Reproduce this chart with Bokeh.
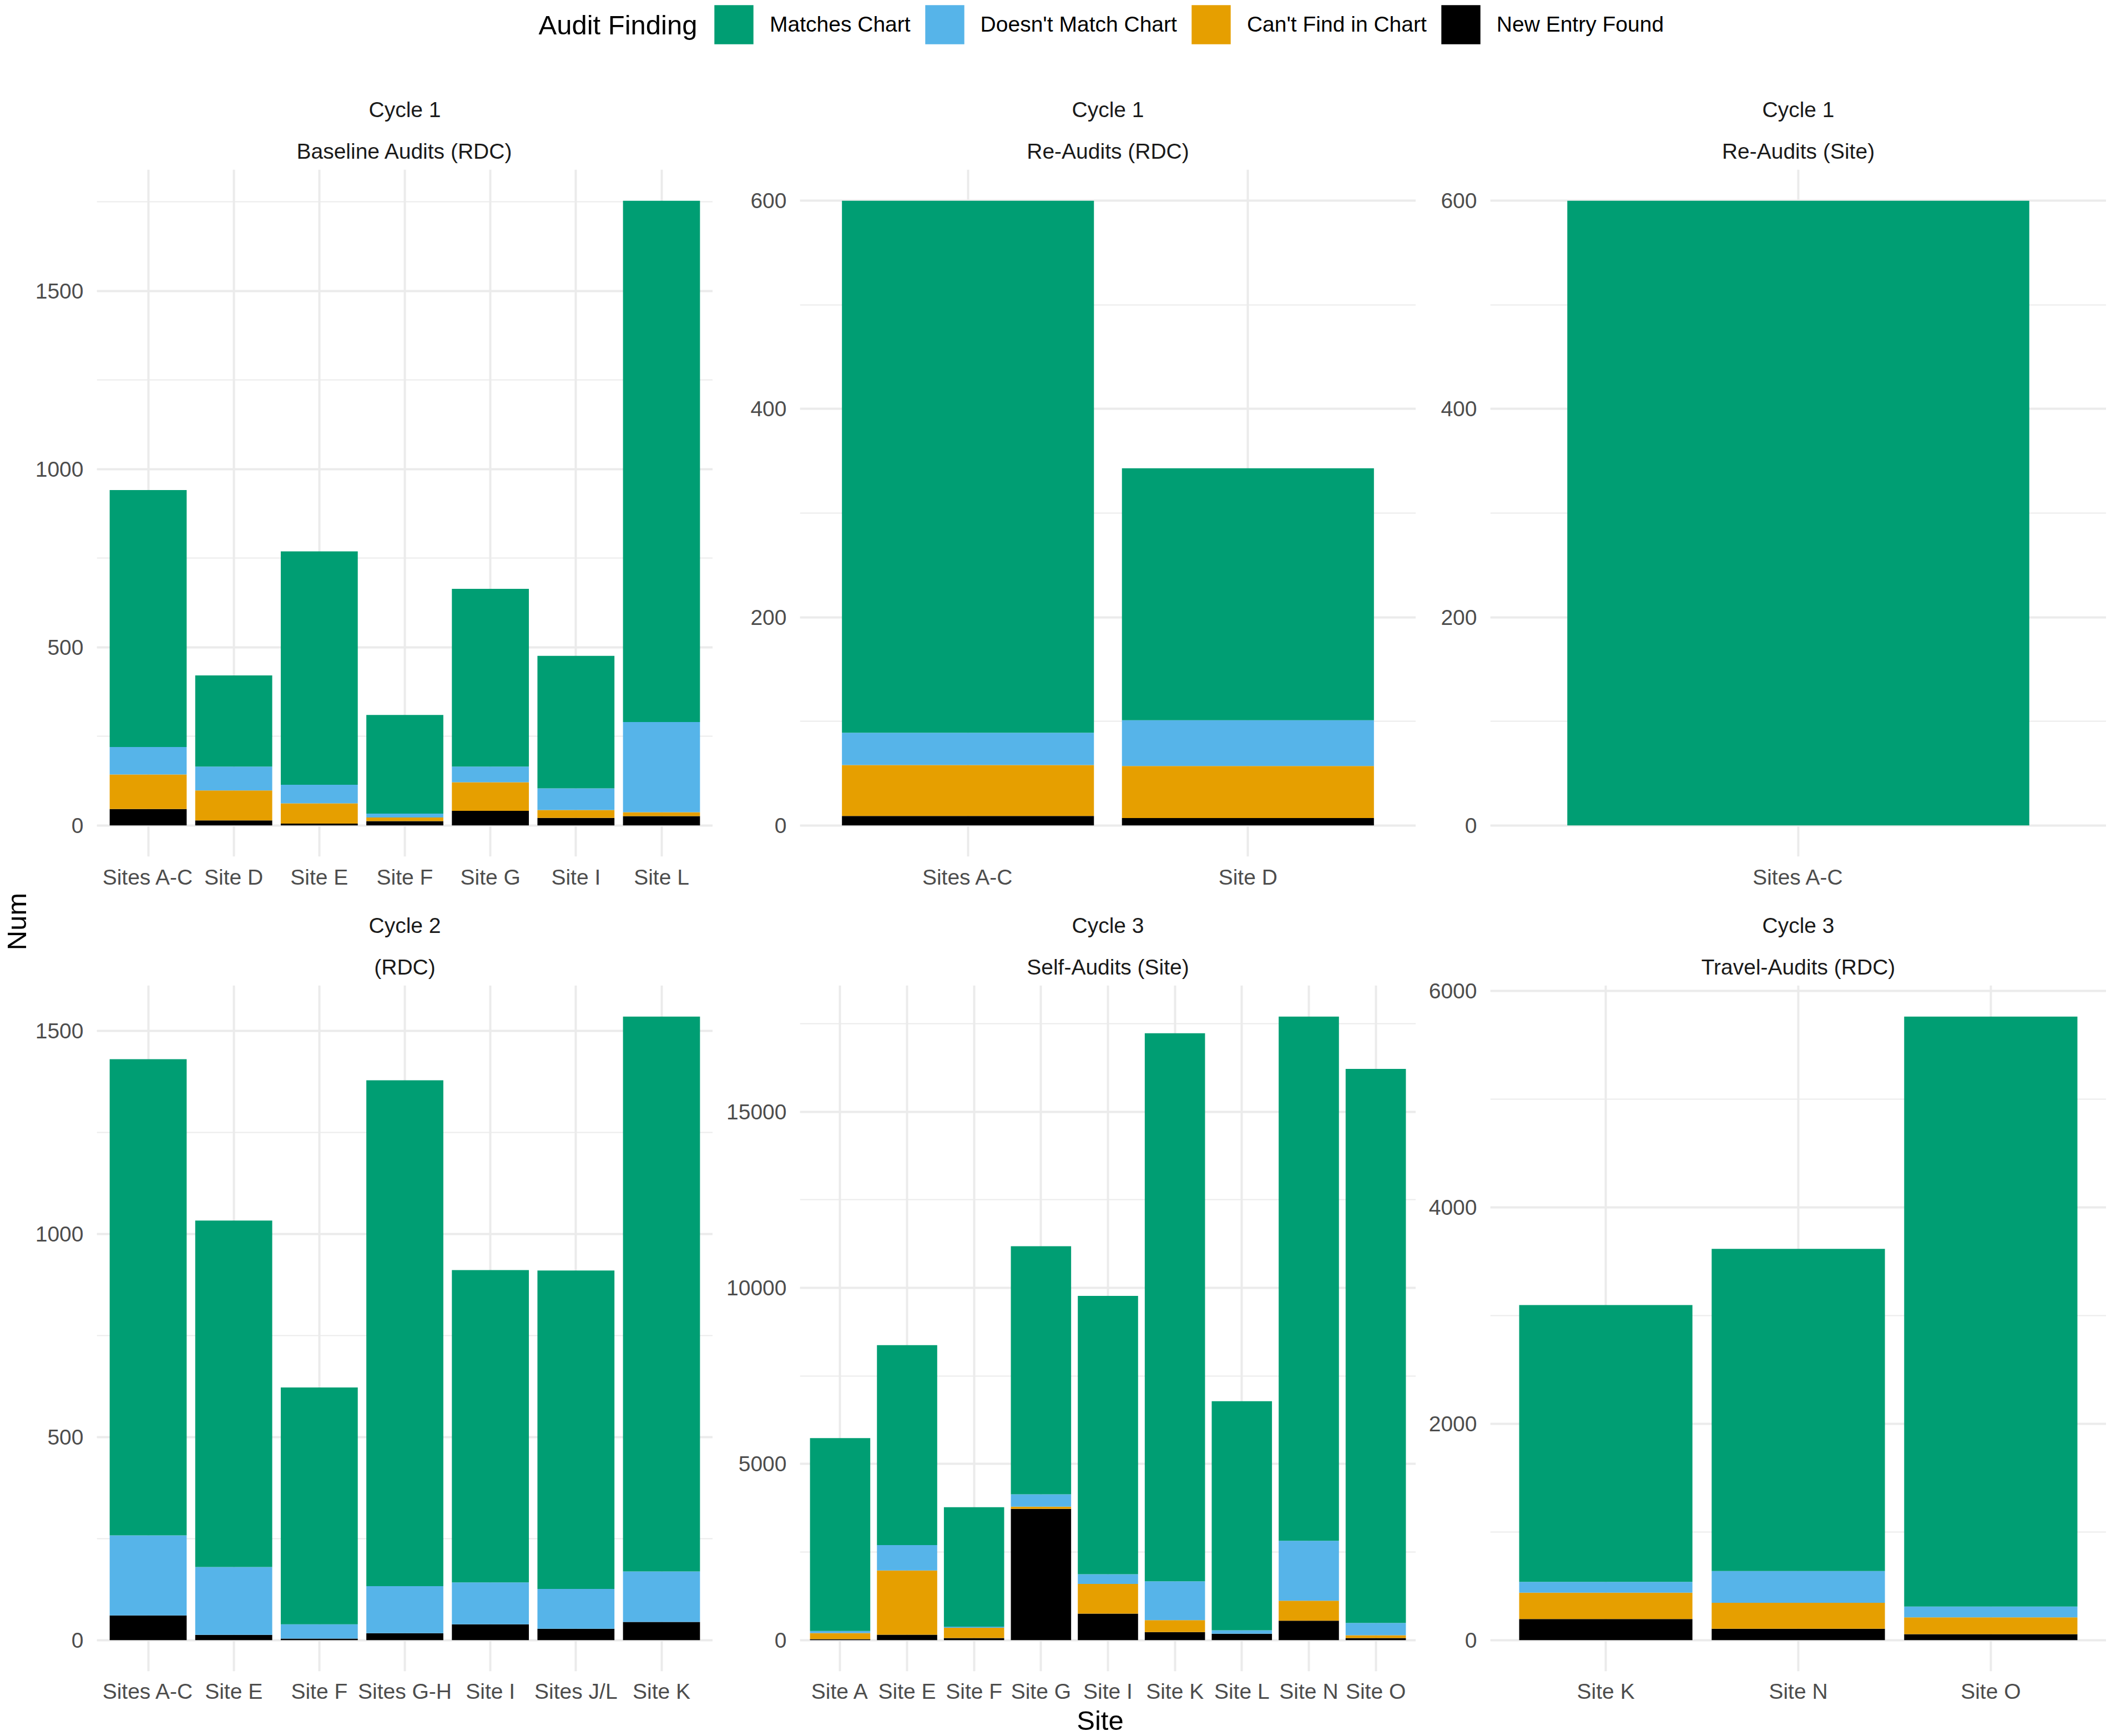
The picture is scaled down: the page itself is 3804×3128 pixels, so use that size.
import math
from bokeh.plotting import figure
from bokeh.models import (Range1d, FixedTicker, SingleIntervalTicker, Title,
                          Legend, LegendItem, ColumnDataSource)
from bokeh.layouts import row, column
from bokeh.embed import file_html
from bokeh.resources import INLINE
from bokeh.core.properties import value

# ---------------- data ----------------
findings = ["Matches Chart", "Doesn't Match Chart", "Can't Find in Chart", "New Entry Found"]
finding_colors = ["#009E73", "#56B4E9", "#E69F00", "#000000"]

panel_cycles = ["Cycle 1", "Cycle 1", "Cycle 1", "Cycle 2", "Cycle 3", "Cycle 3"]
panel_types = ["Baseline Audits (RDC)", "Re-Audits (RDC)", "Re-Audits (Site)",
               "(RDC)", "Self-Audits (Site)", "Travel-Audits (RDC)"]
panel_tick_step = [500, 200, 200, 500, 5000, 2000]

c1_base_sites = ["Sites A-C", "Site D", "Site E", "Site F", "Site G", "Site I", "Site L"]
c1_base_matches = [721, 256, 655, 277, 499, 372, 1463]
c1_base_doesnt = [77, 67, 52, 11, 44, 61, 253]
c1_base_cant = [97, 84, 57, 10, 80, 22, 11]
c1_base_new = [46, 14, 5, 12, 41, 21, 26]

c1_rerdc_sites = ["Sites A-C", "Site D"]
c1_rerdc_matches = [511, 242]
c1_rerdc_doesnt = [31, 44]
c1_rerdc_cant = [49, 50]
c1_rerdc_new = [9, 7]

c1_resite_sites = ["Sites A-C"]
c1_resite_matches = [600]
c1_resite_doesnt = [0]
c1_resite_cant = [0]
c1_resite_new = [0]

c2_rdc_sites = ["Sites A-C", "Site E", "Site F", "Sites G-H", "Site I", "Sites J/L", "Site K"]
c2_rdc_matches = [1172, 853, 583, 1245, 769, 784, 1366]
c2_rdc_doesnt = [197, 167, 35, 116, 103, 98, 124]
c2_rdc_cant = [0, 0, 0, 0, 0, 0, 0]
c2_rdc_new = [61, 13, 4, 17, 39, 28, 45]

c3_self_sites = ["Site A", "Site E", "Site F", "Site G", "Site I", "Site K", "Site L", "Site N", "Site O"]
c3_self_matches = [5476, 5674, 3390, 7040, 7899, 15552, 6503, 14877, 15721]
c3_self_doesnt = [60, 721, 30, 353, 276, 1105, 97, 1702, 353]
c3_self_cant = [170, 1826, 292, 61, 843, 337, 0, 568, 77]
c3_self_new = [30, 153, 61, 3727, 752, 230, 184, 552, 61]

c3_travel_sites = ["Site K", "Site N", "Site O"]
c3_travel_matches = [2557, 2976, 5452]
c3_travel_doesnt = [100, 294, 100]
c3_travel_cant = [244, 240, 155]
c3_travel_new = [195, 105, 55]

panels = [
    (c1_base_sites, c1_base_matches, c1_base_doesnt, c1_base_cant, c1_base_new),
    (c1_rerdc_sites, c1_rerdc_matches, c1_rerdc_doesnt, c1_rerdc_cant, c1_rerdc_new),
    (c1_resite_sites, c1_resite_matches, c1_resite_doesnt, c1_resite_cant, c1_resite_new),
    (c2_rdc_sites, c2_rdc_matches, c2_rdc_doesnt, c2_rdc_cant, c2_rdc_new),
    (c3_self_sites, c3_self_matches, c3_self_doesnt, c3_self_cant, c3_self_new),
    (c3_travel_sites, c3_travel_matches, c3_travel_doesnt, c3_travel_cant, c3_travel_new),
]

# ---------------- layout constants ----------------
FONT = "Liberation Sans"
GRID = "#EBEBEB"
SMALL = "39px"
LARGE = "49px"
FRAME_W = 1110
FRAME_H = [1238, 1236]
NUM_W = 58
LEFT_BORDERS = [116, 157, 134]
T_EST = 150            # height taken by the two strip titles
H_L = 305 - T_EST      # legend strip height
B1 = 232 - T_EST       # bottom border of row 1
B2 = 58                # bottom border of row 2
SITE_H = 56            # strip holding the x-axis title
TOTAL_W = NUM_W + sum(LEFT_BORDERS) + 3 * FRAME_W
LEG_GLYPH = 88         # legend glyph box (area glyph drawn with 10% inset)


def make_panel(k, left_border, frame_h, bottom_border, label_standoff):
    sites, matches, doesnt, cant, new = panels[k]
    n = len(sites)
    xs = list(range(1, n + 1))
    totals = [a + b + c + d for a, b, c, d in zip(matches, doesnt, cant, new)]
    top = max(totals)
    p = figure(frame_width=FRAME_W, frame_height=frame_h,
               x_range=Range1d(0.4, n + 0.6),
               y_range=Range1d(-0.05 * top, 1.05 * top),
               output_backend="svg", toolbar_location=None, title=None,
               min_border_left=left_border, min_border_right=0,
               min_border_top=0, min_border_bottom=bottom_border)
    p.outline_line_color = None
    p.background_fill_color = "white"
    p.border_fill_color = "white"

    src = ColumnDataSource(dict(x=xs, new=new, cant=cant, doesnt=doesnt, matches=matches))
    p.vbar_stack(["new", "cant", "doesnt", "matches"], x="x", width=0.9, source=src,
                 fill_color=finding_colors[::-1], line_color=None)

    xt = FixedTicker(ticks=xs)
    p.xaxis.ticker = xt
    p.xgrid.ticker = xt
    p.xaxis.major_label_overrides = {x: s for x, s in zip(xs, sites)}
    yt = SingleIntervalTicker(interval=panel_tick_step[k], num_minor_ticks=2)
    p.yaxis.ticker = yt
    p.ygrid.ticker = yt

    p.xgrid.grid_line_color = GRID
    p.xgrid.grid_line_width = 4
    p.ygrid.grid_line_color = GRID
    p.ygrid.grid_line_width = 4
    p.ygrid.minor_grid_line_color = GRID
    p.ygrid.minor_grid_line_width = 2

    for ax in (p.xaxis, p.yaxis):
        ax.axis_line_color = None
        ax.major_tick_line_color = None
        ax.minor_tick_line_color = None
        ax.major_tick_out = 0
        ax.major_tick_in = 0
        ax.minor_tick_out = 0
        ax.minor_tick_in = 0
        ax.major_label_text_font = FONT
        ax.major_label_text_font_size = SMALL
        ax.major_label_text_color = "#4D4D4D"
    p.xaxis.major_label_standoff = label_standoff
    p.yaxis.major_label_standoff = 24

    p.add_layout(Title(text=panel_types[k], align="center", text_font=FONT,
                       text_font_size=SMALL, text_font_style="normal",
                       text_color="#1A1A1A", standoff=23), "above")
    p.add_layout(Title(text=panel_cycles[k], align="center", text_font=FONT,
                       text_font_size=SMALL, text_font_style="normal",
                       text_color="#1A1A1A", standoff=37), "above")
    return p


row1 = [make_panel(i, LEFT_BORDERS[i], FRAME_H[0], B1, 15) for i in range(3)]
row2 = [make_panel(3 + i, LEFT_BORDERS[i], FRAME_H[1], B2, 14) for i in range(3)]


def blank(w, h):
    f = figure(frame_width=w, frame_height=h, x_range=Range1d(0, w), y_range=Range1d(0, h),
               output_backend="svg", toolbar_location=None, title=None, min_border=0,
               x_axis_type=None, y_axis_type=None)
    f.outline_line_color = None
    return f


# ---------------- legend strip ----------------
lf = blank(TOTAL_W, H_L)
items = []
for name, col in zip(findings, finding_colors):
    s = ColumnDataSource(dict(x=[-1000], y=[-1000]))
    r = lf.rect(x="x", y="y", width=1, height=1, source=s, fill_color=col, line_color=None)
    items.append(LegendItem(label=value(name), renderers=[r]))
leg = Legend(items=items, orientation="horizontal", location=(1278, H_L - LEG_GLYPH),
             glyph_width=LEG_GLYPH, glyph_height=LEG_GLYPH, label_standoff=21, spacing=17,
             padding=0, margin=0, border_line_color=None, background_fill_alpha=0,
             label_text_font=FONT, label_text_font_size=SMALL, label_text_color="black")
lf.add_layout(leg, "center")
lf.text(x=[1256], y=[H_L - 44], text=["Audit Finding"], text_align="right",
        text_baseline="middle", text_font=value(FONT), text_font_size=LARGE,
        text_color="black")

# ---------------- y-axis title strip ----------------
NUM_H = 2 * T_EST + FRAME_H[0] + FRAME_H[1] + B1 + B2
nf = blank(NUM_W, NUM_H)
nf.text(x=[29], y=[NUM_H - (1660 - H_L)], text=["Num"], angle=math.pi / 2,
        text_align="center", text_baseline="middle", text_font=value(FONT),
        text_font_size=LARGE, text_color="black")

# ---------------- x-axis title strip ----------------
sf = blank(TOTAL_W, SITE_H)
sf.text(x=[1982], y=[SITE_H / 2], text=["Site"], text_align="center",
        text_baseline="middle", text_font=value(FONT), text_font_size=LARGE,
        text_color="black")

layout = column(lf, row(nf, column(row(*row1), row(*row2))), sf)
open("out.html", "w").write(file_html(layout, INLINE))
